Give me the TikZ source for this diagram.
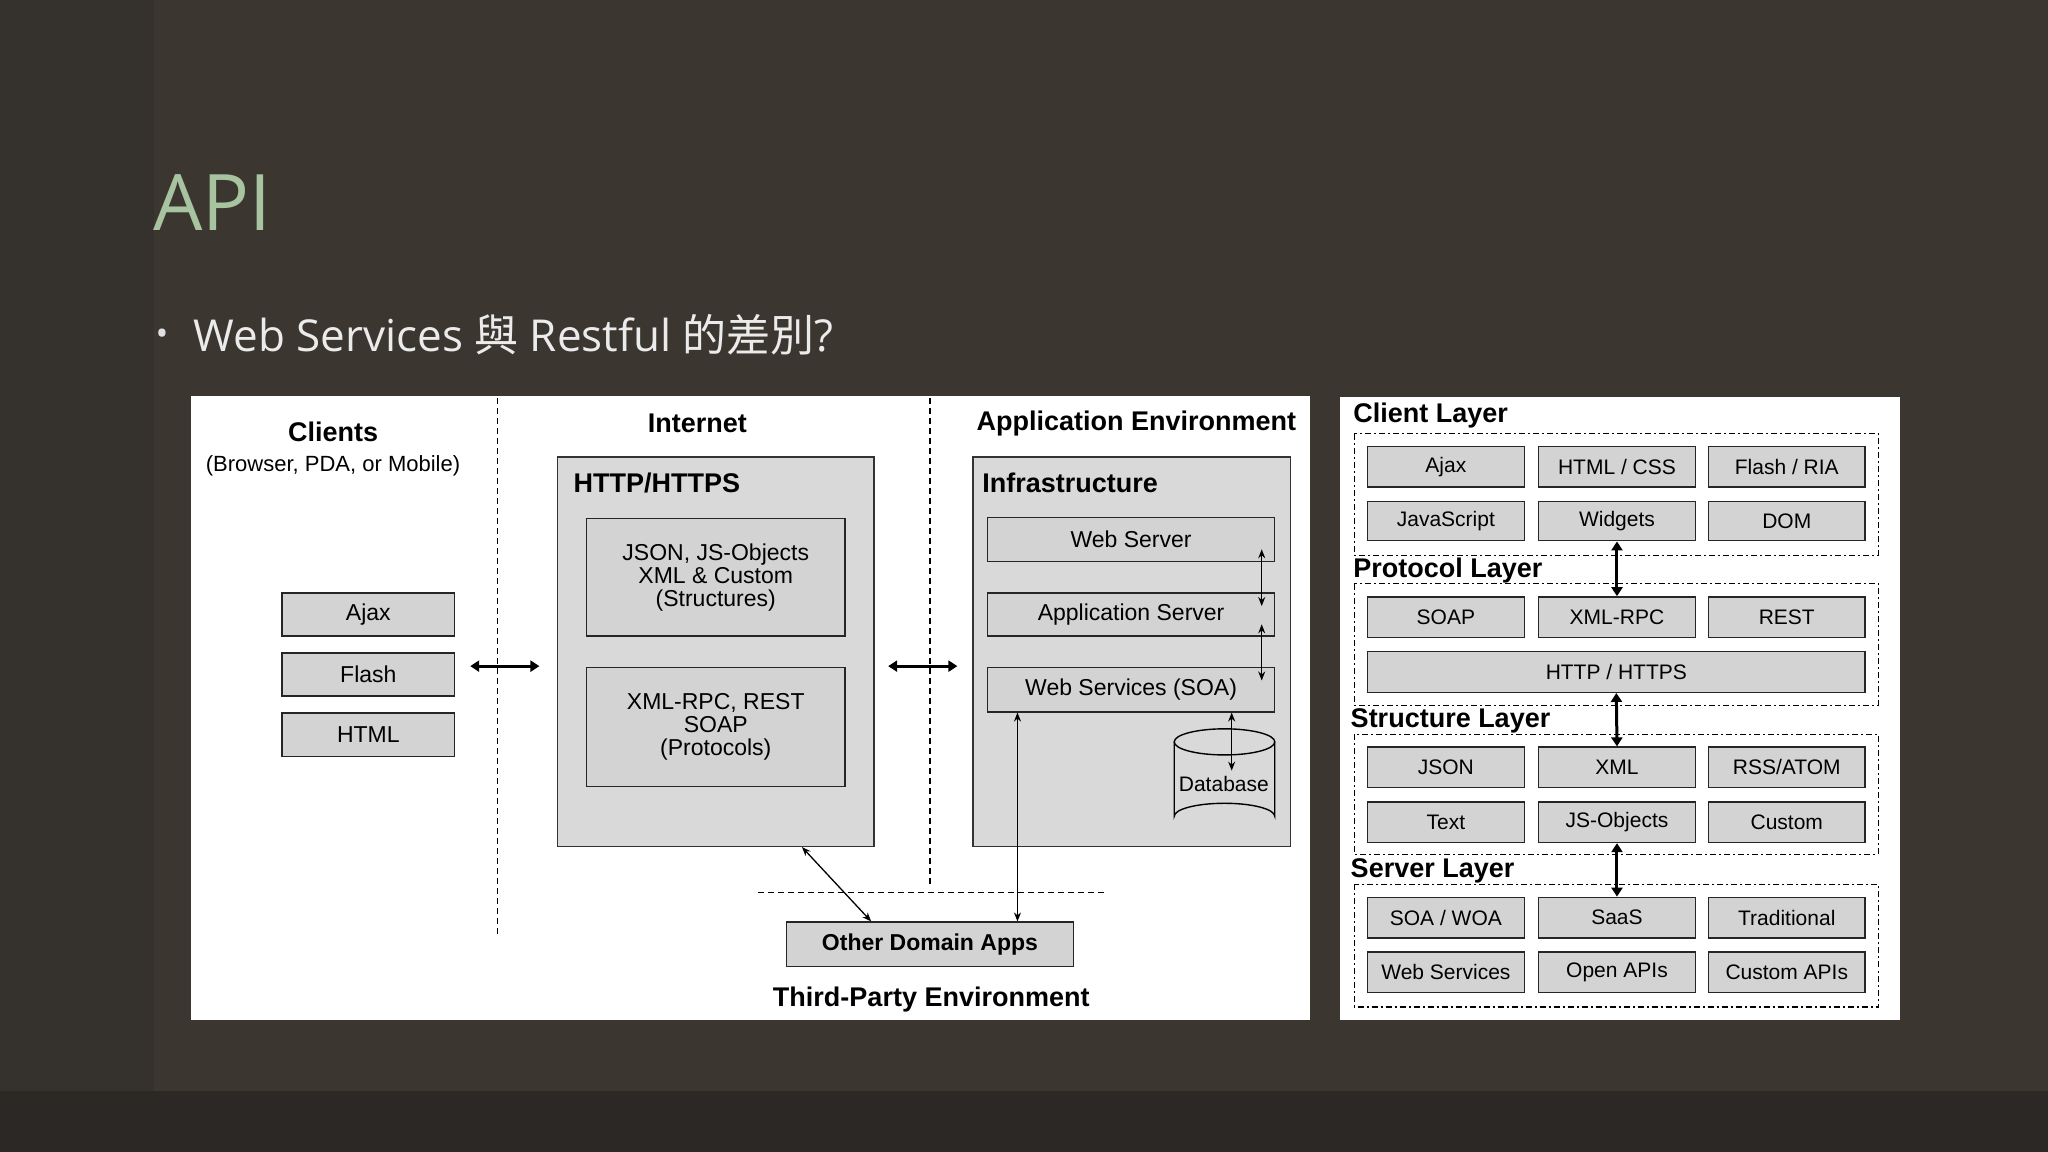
\documentclass[tikz,border=0pt]{standalone}
\usepackage{fontspec}
\setmainfont{Liberation Sans}
\newfontfamily\slide{Open Sans}
\newfontfamily\cjk{Noto Sans CJK TC}
\usetikzlibrary{arrows.meta}
\definecolor{bgc}{HTML}{3B3630}
\definecolor{bgl}{HTML}{35312C}
\definecolor{bgb}{HTML}{2B2825}
\definecolor{titc}{HTML}{A8C3A0}
\definecolor{boxg}{HTML}{D3D3D3}
\definecolor{bigg}{HTML}{D9D9D9}
\newcommand{\fs}[1]{\fontsize{#1}{#1}\selectfont}
\newcommand{\bx}[7][box]{\node[#1,minimum width={(#5-#3)*1.306pt},minimum height={(#6-#4)*1.306pt}] (#2) at ({(#3+#5)/2},{(#4+#6)/2}) {#7};}
\begin{document}
\begin{tikzpicture}[x=1.306pt,y=-1.306pt,
  box/.style={draw=black!85,fill=boxg,line width=1.4pt,inner sep=0pt,align=center,font=\fs{23}},
  rbox/.style={box,font=\fs{21}},
  big/.style={draw=black!80,fill=bigg,line width=1.4pt,inner sep=0pt},
  head/.style={font=\bfseries\fs{27},inner sep=0pt},
  dsh/.style={line width=1.1pt,dash pattern=on 6pt off 4pt},
  ddsh/.style={line width=1.1pt,dash pattern=on 6pt off 3pt on 2pt off 3pt},
  thk/.style={line width=3pt,{Triangle[width=11pt,length=9pt]}-{Triangle[width=11pt,length=9pt]}},
  thn/.style={line width=1.3pt,{Stealth[width=7pt,length=9pt]}-{Stealth[width=7pt,length=9pt]}}]
\fill[bgc] (0,0) rectangle (1568,882);
\fill[bgl] (0,0) rectangle (118,835);
\fill[bgb] (0,835) rectangle (1568,882);
\useasboundingbox (0,0) rectangle (1568,882);
\node[anchor=west,text=titc,font=\slide\fs{78},inner sep=0pt] (title) at (117,155) {API};
\node[anchor=west,text=white!88!black,font=\slide\fs{34},inner sep=0pt] (bul) at (119,258) {•};
\node[anchor=west,text=white!92!black,font=\slide\fs{44},inner sep=0pt] (sub) at (148,256) {Web Services {\cjk 與} Restful {\cjk 的差別}?};
% panels
\fill[white] (146,303) rectangle (1003,781);
\fill[white] (1026,304) rectangle (1455,781);
% left diagram
\draw[dsh] (381,305) -- (381,718);
\draw[dsh] (712,305) -- (712,680);
\draw[dsh] (580,683) -- (845,683);
\node[head] (cl) at (255,331) {Clients};
\node[font=\fs{22},inner sep=0pt] (cl2) at (255,357) {(Browser, PDA, or Mobile)};
\node[head] (inet) at (534,324) {Internet};
\node[head] (appenv) at (870,324) {Application Environment};
\bx{ajax}{216}{454}{348}{487}{Ajax}
\bx{flash}{216}{500}{348}{533}{Flash}
\bx{html}{216}{546}{348}{579}{HTML}
\coordinate (a1) at (360,510); \coordinate (a2) at (413,510);
\coordinate (a3) at (680,510); \coordinate (a4) at (733,510);
\draw[thk] (a1) -- (a2);
\draw[thk] (a3) -- (a4);
\bx[big]{http}{427}{350}{669}{648}{}
\node[head,anchor=west] (httpt) at (439,370) {HTTP/HTTPS};
\bx{st}{449}{397}{647}{487}{JSON, JS-Objects\\XML \& Custom\\(Structures)}
\bx{pr}{449}{511}{647}{602}{XML-RPC, REST\\SOAP\\(Protocols)}
\bx[big]{infra}{745}{350}{988}{648}{}
\node[head,anchor=west] (inft) at (752,370) {Infrastructure};
\bx{ws}{756}{396}{976}{430}{Web Server}
\bx{as}{756}{454}{976}{487}{Application Server}
\bx{soa}{756}{511}{976}{545}{Web Services (SOA)}
\draw[thn] (ws.south east -| 966,0) ++(0,-10) coordinate (w1) -- (966,464) coordinate (w2);
\draw[thn] (966,478) coordinate (w3) -- (966,521) coordinate (w4);
% database
\draw[line width=1.4pt,fill=bigg] (899,568) -- (899,625) arc[start angle=180,end angle=360,x radius=38.5,y radius=10] -- (976,568);
\draw[line width=1.4pt,fill=bigg] (937.5,568) ellipse [x radius=38.5,y radius=10];
\node[font=\fs{21},inner sep=0pt] (db) at (937,600) {Database};
\draw[thn] (soa.south -| 943,0) -- (943,590);
\bx{oda}{602}{706}{822}{740}{\bfseries Other Domain Apps}
\node[head] (tpe) at (713,765) {Third-Party Environment};
\draw[thn] (soa.south west -| 779,0) -- (oda.north -| 779,0);
\draw[thn] (http.south -| 614,0) -- (oda.north -| 667,0);
% right diagram
\draw[ddsh] (1037,332) rectangle (1438,425);
\draw[ddsh] (1037,447) rectangle (1438,540);
\draw[ddsh] (1037,562) rectangle (1438,654);
\draw[ddsh] (1037,677) rectangle (1438,771);
\node[head,anchor=west] (l1) at (1036,318) {Client Layer};
\node[head,anchor=west] (l2) at (1036,437) {Protocol Layer};
\node[head,anchor=west] (l3) at (1034,552) {Structure Layer};
\node[head,anchor=west] (l4) at (1034,667) {Server Layer};
\bx[rbox]{c11}{1047}{342}{1167}{373}{Ajax}
\bx[rbox]{c12}{1178}{342}{1298}{373}{HTML / CSS}
\bx[rbox]{c13}{1308}{342}{1428}{373}{Flash / RIA}
\bx[rbox]{c21}{1047}{384}{1167}{414}{JavaScript}
\bx[rbox]{c22}{1178}{384}{1298}{414}{Widgets}
\bx[rbox]{c23}{1308}{384}{1428}{414}{DOM}
\bx[rbox]{p11}{1047}{457}{1167}{488}{SOAP}
\bx[rbox]{p12}{1178}{457}{1298}{488}{XML-RPC}
\bx[rbox]{p13}{1308}{457}{1428}{488}{REST}
\bx[rbox]{p2}{1047}{499}{1428}{530}{HTTP / HTTPS}
\bx[rbox]{s11}{1047}{572}{1167}{603}{JSON}
\bx[rbox]{s12}{1178}{572}{1298}{603}{XML}
\bx[rbox]{s13}{1308}{572}{1428}{603}{RSS/ATOM}
\bx[rbox]{s21}{1047}{614}{1167}{645}{Text}
\bx[rbox]{s22}{1178}{614}{1298}{645}{JS-Objects}
\bx[rbox]{s23}{1308}{614}{1428}{645}{Custom}
\bx[rbox]{v11}{1047}{687}{1167}{718}{SOA / WOA}
\bx[rbox]{v12}{1178}{687}{1298}{718}{SaaS}
\bx[rbox]{v13}{1308}{687}{1428}{718}{Traditional}
\bx[rbox]{v21}{1047}{729}{1167}{760}{Web Services}
\bx[rbox]{v22}{1178}{729}{1298}{760}{Open APIs}
\bx[rbox]{v23}{1308}{729}{1428}{760}{Custom APIs}
\draw[thk] (c22.south) -- (p12.north);
\draw[thk] (p2.south) -- (s12.north);
\draw[thk] (s22.south) -- (v12.north);
\end{tikzpicture}
\end{document}
